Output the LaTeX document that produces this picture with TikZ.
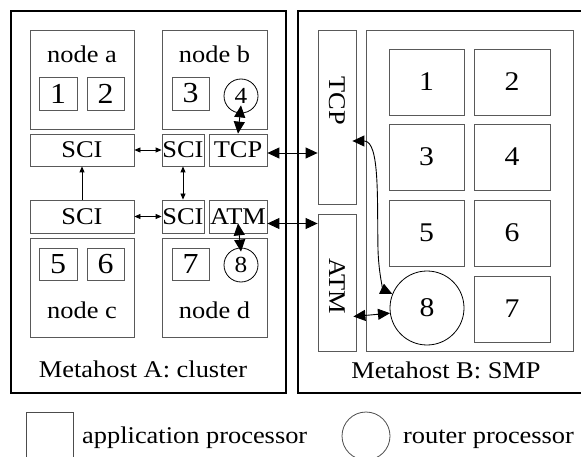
\documentclass[tikz,border=0pt]{standalone}
\usepackage{fontspec}
\setmainfont{Liberation Serif}[FakeStretch=1.1]
\usetikzlibrary{arrows.meta}
\tikzset{
  host/.style={draw=black, line width=2.2pt, inner sep=0pt},
  box/.style={draw=black!65, line width=0.8pt, inner sep=0pt},
  proc/.style={box, font=\fontsize{29}{30}\selectfont},
  smpproc/.style={box, font=\fontsize{27}{30}\selectfont},
  rproc/.style={draw=black, line width=0.8pt, circle, inner sep=0pt},
  lbl/.style={font=\fontsize{24}{26}\selectfont, inner sep=0pt},
  big/.style={line width=0.9pt, {Triangle[length=12pt,width=11pt]}-{Triangle[length=12pt,width=11pt]}},
  small/.style={line width=0.8pt, {Triangle[length=6pt,width=5pt]}-{Triangle[length=6pt,width=5pt]}},
}
\begin{document}
\begin{tikzpicture}[x=1pt,y=-1pt]
\useasboundingbox (0,0) rectangle (581,457);
\begin{scope}
\clip (0,0) rectangle (581,457);

% the two metahosts
\node[host, minimum width=275pt, minimum height=382pt] (mA) at (148.5,202) {};
\node[host, minimum width=302pt, minimum height=382pt] (mB) at (449,202) {};

% ---------------- metahost A: cluster ----------------
\node[box, minimum width=104pt, minimum height=99pt] (na) at (82,79.5) {};
\node[box, minimum width=105pt, minimum height=99pt] (nb) at (214.5,79.5) {};
\node[box, minimum width=104pt, minimum height=99pt] (nc) at (82,287.5) {};
\node[box, minimum width=105pt, minimum height=99pt] (nd) at (214.5,287.5) {};

\node[lbl, anchor=base] (la) at (82,63) {node a};
\node[lbl, anchor=base] (lb) at (214.5,63) {node b};
\node[lbl, anchor=base] (lc) at (82,318) {node c};
\node[lbl, anchor=base] (ld) at (214.5,318) {node d};

\node[proc, minimum width=38pt, minimum height=33pt] (a1) at (58,93.5) {1};
\node[proc, minimum width=37pt, minimum height=33pt] (a2) at (105.5,93.5) {2};
\node[proc, minimum width=37pt, minimum height=33pt] (a3) at (190.5,93.5) {3};
\node[rproc, minimum size=34pt, font=\fontsize{23}{24}\selectfont] (a4) at (241,96) {4};

\node[proc, minimum width=38pt, minimum height=32pt] (a5) at (58,264) {5};
\node[proc, minimum width=37pt, minimum height=32pt] (a6) at (105.5,264) {6};
\node[proc, minimum width=37pt, minimum height=32pt] (a7) at (190.5,264) {7};
\node[rproc, minimum size=34pt, font=\fontsize{23}{24}\selectfont] (a8) at (241,265) {8};

\node[box, lbl, minimum width=104pt, minimum height=32pt] (sciA) at (82,150) {SCI};
\node[box, lbl, minimum width=42pt, minimum height=32pt] (sciB) at (183,150) {SCI};
\node[box, lbl, minimum width=58pt, minimum height=32pt] (tcpA) at (238,150) {TCP};
\node[box, lbl, minimum width=104pt, minimum height=33pt] (sciC) at (82,216.5) {SCI};
\node[box, lbl, minimum width=42pt, minimum height=33pt] (sciD) at (183,216.5) {SCI};
\node[box, lbl, minimum width=58pt, minimum height=33pt] (atmA) at (238,216.5) {ATM};

\node[lbl, anchor=base] (tA) at (143,377) {Metahost A: cluster};

% ---------------- metahost B: SMP ----------------
\node[box, minimum width=38pt, minimum height=174pt] (tcpB) at (337,117) {};
\node[box, minimum width=38pt, minimum height=137pt] (atmB) at (337,282.5) {};
\node[lbl, rotate=-90] (ltcpB) at (337,101) {TCP};
\node[lbl, rotate=-90] (latmB) at (337,286) {ATM};
\node[box, minimum width=207pt, minimum height=321pt] (smp) at (469.5,190.5) {};

\node[smpproc, minimum width=75pt, minimum height=66pt] (b1) at (426.5,82) {1};
\node[smpproc, minimum width=76pt, minimum height=66pt] (b2) at (512,82) {2};
\node[smpproc, minimum width=75pt, minimum height=66pt] (b3) at (426.5,157) {3};
\node[smpproc, minimum width=76pt, minimum height=66pt] (b4) at (512,157) {4};
\node[smpproc, minimum width=75pt, minimum height=66pt] (b5) at (426.5,233) {5};
\node[smpproc, minimum width=76pt, minimum height=66pt] (b6) at (512,233) {6};
\node[smpproc, minimum width=76pt, minimum height=66pt] (b7) at (512,309) {7};
\node[rproc, minimum size=74pt, font=\fontsize{27}{30}\selectfont] (b8) at (427,308) {8};

\node[lbl, anchor=base] (tB) at (446,378) {Metahost B: SMP};

% ---------------- links ----------------
\draw[small] (sciA.east) -- (sciB.west);
\draw[small] (sciC.east) -- (sciD.west);
\draw[line width=0.8pt, -{Triangle[length=6pt,width=5pt]}] (sciC.north) -- (sciA.south);
\draw[small] (sciB.south) -- (sciD.north);
\draw[big] ([yshift=8pt]a4.south) -- (tcpA.north);
\draw[big] ([yshift=10pt]atmA.south) -- ([yshift=-4pt]a8.north);
\draw[big] ([yshift=-3pt]tcpA.east) -- ([yshift=-3pt]tcpA.east -| tcpB.west);
\draw[big] ([yshift=-7pt]atmA.east) -- ([yshift=-7pt]atmA.east -| atmB.west);
\draw[big] ([xshift=-4pt,yshift=-24pt]tcpB.east) .. controls (380,141) and (377,200) .. (378,250) .. controls (379,278) and (384,290) .. (b8.158);
\draw[big] ([xshift=-3pt,yshift=-34pt]atmB.east) -- (b8.188);

\end{scope}

% ---------------- legend ----------------
\node[box, draw=black!70, minimum size=47pt] (lgA) at (49.5,435.5) {};
\node[lbl, anchor=base west] (lgAt) at (82,443) {application processor};
\node[rproc, draw=black!70, minimum size=48pt] (lgR) at (366,436) {};
\node[lbl, anchor=base west] (lgRt) at (403,443) {router processor};
\end{tikzpicture}
\end{document}
